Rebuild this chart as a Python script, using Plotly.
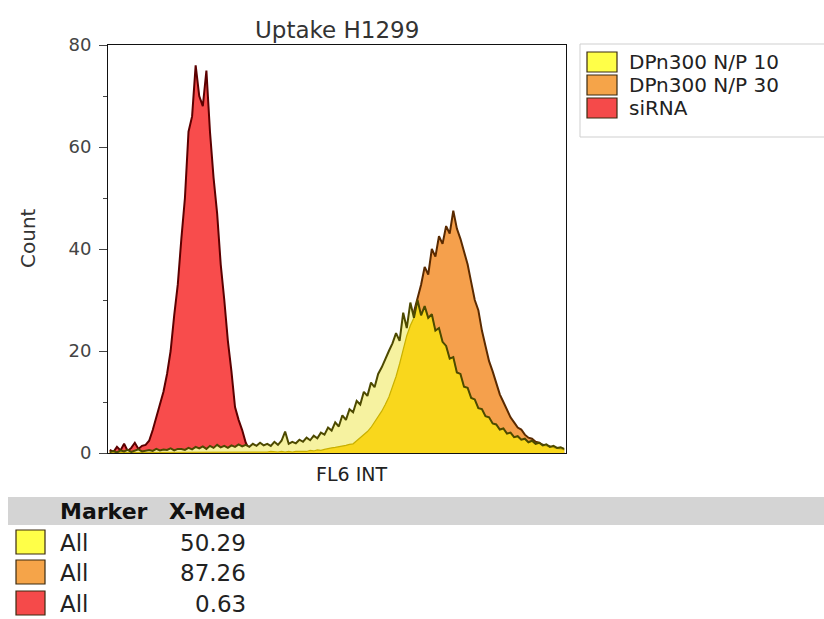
import numpy as np
import plotly.graph_objects as go

# ---- data: event counts per FL6 INT channel bin (128 bins over 0..1024) ----
series_names = ["DPn300 N/P 10", "DPn300 N/P 30", "siRNA"]
x_medians = [50.29, 87.26, 0.63]
marker_labels = ["All", "All", "All"]
channel_max = 1024
n_bins = 128

counts_sirna = [
    0.6, 0.2, 1.2, 0.5, 1.8, 0.4, 1.0, 2.0, 0.8, 1.4,
    1.6, 2.4, 4.5, 7.0, 9.5, 12.0, 15.5, 20.0, 27.0, 33.0,
    42.0, 50.0, 63.0, 66.0, 76.0, 70.0, 68.0, 75.0, 63.0, 54.0,
    47.0, 37.0, 30.0, 22.0, 16.0, 9.0, 6.5, 4.5, 2.0, 0.6,
    0.3, 0.2, 0.1, 0.0, 0.1, 0.0, 0.0, 0.1, 0.0, 0.0,
    0.0, 0.0, 0.0, 0.0, 0.0, 0.0, 0.0, 0.0, 0.0, 0.0,
    0.0, 0.0, 0.0, 0.0, 0.0, 0.0, 0.0, 0.0, 0.0, 0.0,
    0.0, 0.0, 0.0, 0.0, 0.0, 0.0, 0.0, 0.0, 0.0, 0.0,
    0.0, 0.0, 0.0, 0.0, 0.0, 0.0, 0.0, 0.0, 0.0, 0.0,
    0.0, 0.0, 0.0, 0.0, 0.0, 0.0, 0.0, 0.0, 0.0, 0.0,
    0.0, 0.0, 0.0, 0.0, 0.0, 0.0, 0.0, 0.0, 0.0, 0.0,
    0.0, 0.0, 0.0, 0.0, 0.0, 0.0, 0.0, 0.0, 0.0, 0.0,
    0.0, 0.0, 0.0, 0.0, 0.0, 0.0, 0.0, 0.0,
]

counts_np10 = [
    0.2, 0.4, 0.1, 0.5, 0.3, 0.6, 0.2, 0.4, 0.7, 0.3,
    0.5, 0.6, 0.4, 0.8, 0.5, 0.7, 0.6, 0.9, 0.5, 0.8,
    0.8, 0.6, 1.0, 0.7, 1.2, 0.9, 1.3, 0.8, 1.4, 1.0,
    1.6, 1.1, 1.4, 1.0, 1.5, 1.2, 1.7, 1.3, 1.6, 1.2,
    1.8, 1.4, 2.0, 1.5, 1.8, 1.4, 2.2, 1.6, 2.4, 4.2,
    1.8, 2.2, 1.9, 2.6, 2.2, 3.0, 2.5, 3.4, 2.9, 4.0,
    3.6, 5.0, 4.4, 6.0, 5.2, 7.4, 6.5, 8.6, 8.0, 10.2,
    9.5, 12.0, 11.2, 13.8, 12.9, 15.5, 16.8, 18.5, 20.0, 21.5,
    23.5, 22.0, 27.5, 24.5, 29.5, 26.5, 30.0, 27.0, 28.8, 26.5,
    27.2, 24.0, 24.5, 21.8, 21.0, 18.5, 18.8, 15.8, 15.5, 13.0,
    12.8, 10.8, 10.5, 8.8, 8.6, 7.2, 7.0, 5.8, 5.6, 4.6,
    4.8, 3.8, 4.0, 3.1, 3.3, 2.6, 2.8, 2.1, 2.4, 1.8,
    2.0, 1.5, 1.7, 1.2, 1.4, 1.0, 1.1, 0.8,
]

counts_np30 = [
    0.1, 0.2, 0.1, 0.1, 0.2, 0.1, 0.1, 0.2, 0.1, 0.1,
    0.2, 0.1, 0.1, 0.2, 0.1, 0.2, 0.1, 0.2, 0.2, 0.1,
    0.2, 0.1, 0.2, 0.2, 0.1, 0.2, 0.2, 0.1, 0.2, 0.2,
    0.2, 0.1, 0.2, 0.2, 0.2, 0.1, 0.2, 0.2, 0.2, 0.2,
    0.2, 0.2, 0.2, 0.2, 0.2, 0.3, 0.2, 0.2, 0.3, 0.2,
    0.3, 0.2, 0.3, 0.3, 0.2, 0.3, 0.5, 0.4, 0.6, 0.5,
    0.7, 0.9, 1.0, 1.1, 1.2, 1.4, 1.5, 1.7, 1.8, 2.4,
    3.0, 3.6, 4.2, 5.0, 6.0, 7.0, 8.2, 9.5, 11.0, 13.0,
    15.0, 17.5, 20.5, 23.0, 25.0, 27.5, 30.0, 33.0, 36.5, 35.0,
    40.0, 38.5, 42.5, 41.0, 44.5, 43.0, 47.5, 44.0, 42.0, 39.5,
    37.0, 33.5, 30.0, 28.0, 24.0, 21.0, 18.0, 16.0, 13.5, 11.5,
    10.0, 8.5, 7.0, 6.0, 5.0, 4.6, 3.6, 3.0, 2.8, 2.2,
    2.0, 1.6, 1.4, 1.2, 1.0, 0.9, 0.8, 0.6,
]

swatch_colors = ["#ffff48", "#f5a449", "#f54a4a"]

W, H = 824, 619
L, R, T, B = 108, 566, 45, 453  # plot area in pixels


def px(x):
    return (x - L) / (R - L)


def py(y):
    return (B - y) / (B - T)


bin_w = channel_max / n_bins
x = (np.arange(n_bins) + 0.5) * bin_w
np10 = np.array(counts_np10)
np30 = np.array(counts_np30)
overlap = np.minimum(np10, np30)  # area shared by the two DPn300 histograms

fig = go.Figure()
# siRNA
fig.add_trace(go.Scatter(x=x, y=counts_sirna, mode="lines", name=series_names[2],
                         line=dict(color="#5c0000", width=2), fill="tozeroy",
                         fillcolor="#f84c4c", hoverinfo="skip"))
# N/P 30
fig.add_trace(go.Scatter(x=x, y=np30, mode="lines", name=series_names[1],
                         line=dict(color="#5a2a00", width=2), fill="tozeroy",
                         fillcolor="#f5a04c", hoverinfo="skip"))
# N/P 10 (pale where alone, gold where it lies over N/P 30)
fig.add_trace(go.Scatter(x=x, y=np10, mode="lines", name=series_names[0],
                         line=dict(color="rgba(0,0,0,0)", width=0), fill="tozeroy",
                         fillcolor="#f6f2a0", hoverinfo="skip"))
fig.add_trace(go.Scatter(x=x, y=overlap, mode="lines", name="overlap",
                         line=dict(color="#c9b000", width=1.2), fill="tozeroy",
                         fillcolor="#f9d71c", hoverinfo="skip"))
fig.add_trace(go.Scatter(x=x, y=np10, mode="lines", name=series_names[0] + " outline",
                         line=dict(color="#4d4a00", width=2), hoverinfo="skip"))

font_main = "DejaVu Sans"
fig.update_layout(
    width=W, height=H,
    margin=dict(l=L, r=W - R, t=T, b=H - B),
    paper_bgcolor="white", plot_bgcolor="white",
    showlegend=False,
    xaxis=dict(range=[0, channel_max], showticklabels=False, ticks="",
               showgrid=False, zeroline=False, showline=True, mirror=True,
               linecolor="#111", linewidth=1),
    yaxis=dict(range=[0, 80], tickvals=[0, 20, 40, 60, 80], ticks="outside",
               ticklen=8, tickcolor="#444", tickwidth=1, ticklabelstandoff=4,
               tickfont=dict(family=font_main, size=18, color="#444"),
               showgrid=False, zeroline=False, showline=True, mirror=True,
               linecolor="#111", linewidth=1,
               minor=dict(dtick=10, ticklen=4, tickcolor="#444", ticks="outside",
                          showgrid=False)),
)

ann = []
ann.append(dict(text="Uptake H1299", x=px(336.5), y=py(30), xref="paper", yref="paper",
                xanchor="center", yanchor="middle", showarrow=False,
                font=dict(family=font_main, size=23, color="#333")))
ann.append(dict(text="FL6 INT", x=px(351), y=py(474), xref="paper", yref="paper",
                xanchor="center", yanchor="middle", showarrow=False,
                font=dict(family=font_main, size=19, color="#222")))
ann.append(dict(text="Count", x=px(28), y=py(238), xref="paper", yref="paper",
                xanchor="center", yanchor="middle", showarrow=False, textangle=-90,
                font=dict(family=font_main, size=20, color="#333")))

shapes = []
# legend box
shapes.append(dict(type="rect", xref="paper", yref="paper",
                   x0=px(580), x1=px(840), y0=py(137), y1=py(44),
                   line=dict(color="#cfcfcf", width=1), fillcolor="white"))
legend_centers = [62, 85, 108]
for i, name in enumerate(series_names):
    cy = legend_centers[i]
    shapes.append(dict(type="rect", xref="paper", yref="paper",
                       x0=px(587), x1=px(617), y0=py(cy + 10), y1=py(cy - 10),
                       line=dict(color="#3a2a10", width=1.2), fillcolor=swatch_colors[i]))
    ann.append(dict(text=name, x=px(627), y=py(cy), xref="paper", yref="paper",
                    xanchor="left", yanchor="middle", showarrow=False,
                    font=dict(family=font_main, size=20, color="#222")))

# statistics table below the plot
shapes.append(dict(type="rect", xref="paper", yref="paper",
                   x0=px(8), x1=px(840), y0=py(525), y1=py(497),
                   line=dict(width=0), fillcolor="#d4d4d4"))
ann.append(dict(text="<b>Marker</b>", x=px(58), y=py(511), xref="paper", yref="paper",
                xanchor="left", yanchor="middle", showarrow=False,
                font=dict(family=font_main, size=22, color="#111")))
ann.append(dict(text="<b>X-Med</b>", x=px(248), y=py(511), xref="paper", yref="paper",
                xanchor="right", yanchor="middle", showarrow=False,
                font=dict(family=font_main, size=22, color="#111")))
row_centers = [542, 572, 603]
for i, med in enumerate(x_medians):
    cy = row_centers[i]
    shapes.append(dict(type="rect", xref="paper", yref="paper",
                       x0=px(16), x1=px(45), y0=py(cy + 12), y1=py(cy - 12),
                       line=dict(color="#3a2a10", width=1.2), fillcolor=swatch_colors[i]))
    ann.append(dict(text=marker_labels[i], x=px(58), y=py(cy + 1), xref="paper", yref="paper",
                    xanchor="left", yanchor="middle", showarrow=False,
                    font=dict(family=font_main, size=23, color="#222")))
    ann.append(dict(text=f"{med:.2f}", x=px(248), y=py(cy + 1), xref="paper", yref="paper",
                    xanchor="right", yanchor="middle", showarrow=False,
                    font=dict(family=font_main, size=23, color="#222")))

fig.update_layout(annotations=ann, shapes=shapes)
fig.write_html("out.html")
